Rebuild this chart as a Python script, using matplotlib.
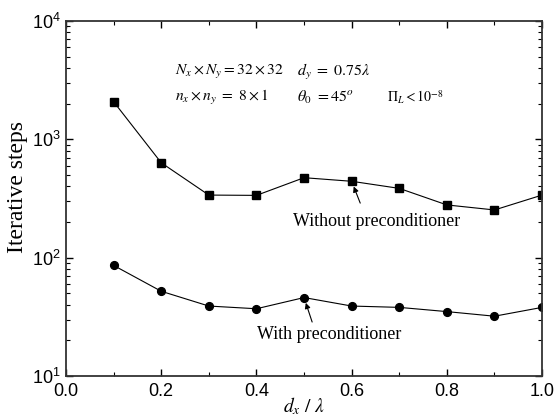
import numpy as np
import matplotlib.pyplot as plt
from matplotlib.ticker import LogLocator, MultipleLocator, NullFormatter

OUTPUT_FIG = "out.png"

# spacing d_x / lambda
dx = [0.1, 0.2, 0.3, 0.4, 0.5, 0.6, 0.7, 0.8, 0.9, 1.0]
# iterative steps
without_pre = [2080, 634, 338, 336, 474, 442, 385, 279, 253, 338]
with_pre = [86, 52, 39, 37, 46, 39, 38, 35, 32, 38]


def main():
    plt.rcParams["mathtext.fontset"] = "stix"
    plt.rcParams["font.family"] = "Liberation Sans"

    fig = plt.figure(figsize=(5.56, 4.16), dpi=100)
    ax = fig.add_axes([0.1187, 0.0962, 0.8563, 0.8533])

    ax.plot(dx, without_pre, "-s", color="black", linewidth=0.8,
            markersize=5.2, markerfacecolor="black")
    ax.plot(dx, with_pre, "-o", color="black", linewidth=0.8,
            markersize=5.6, markerfacecolor="black")

    ax.set_yscale("log")
    ax.set_xlim(0.0, 1.0)
    ax.set_ylim(10, 1e4)
    ax.xaxis.set_major_locator(MultipleLocator(0.2))
    ax.xaxis.set_minor_locator(MultipleLocator(0.1))
    ax.xaxis.set_major_formatter(plt.FuncFormatter(lambda v, p: f"{v:.1f}"))
    ax.yaxis.set_major_locator(LogLocator(base=10))
    ax.yaxis.set_minor_locator(LogLocator(base=10, subs=np.arange(2, 10)))
    ax.yaxis.set_minor_formatter(NullFormatter())

    ax.tick_params(which="both", direction="in", top=True, right=True,
                   labelsize=13, colors="black")
    ax.tick_params(axis="x", pad=5)
    ax.tick_params(axis="y", pad=4)
    ax.tick_params(which="major", length=5, width=1.0)
    ax.tick_params(which="minor", length=3, width=0.8)
    for s in ax.spines.values():
        s.set_linewidth(1.3)
        s.set_color("#333333")

    ax.set_ylabel("Iterative steps", family="Liberation Serif", fontsize=17)
    ax.yaxis.set_label_coords(-0.08, 0.532)
    ax.set_xlabel(r"$d_x\ /\ \lambda$", fontsize=14, labelpad=-3)

    ax.text(0.229, 0.855, r"$N_x\times N_y=32\times 32$", transform=ax.transAxes,
            fontsize=11.2, va="center")
    ax.text(0.485, 0.855, r"$d_y\ =\ 0.75\lambda$", transform=ax.transAxes,
            fontsize=11.5, va="center")
    ax.text(0.229, 0.785, r"$n_x\times n_y\ =\ 8\times 1$", transform=ax.transAxes,
            fontsize=11.2, va="center")
    ax.text(0.485, 0.785, r"$\theta_0\ =45^o$", transform=ax.transAxes,
            fontsize=11.5, va="center")
    ax.text(0.675, 0.785, r"$\Pi_L<10^{-8}$", transform=ax.transAxes,
            fontsize=10, va="center")

    arrow = dict(arrowstyle="-|>", color="black", lw=0.8,
                 mutation_scale=8, shrinkA=0, shrinkB=4)
    ax.text(0.477, 0.434, "Without preconditioner", transform=ax.transAxes,
            family="Liberation Serif", fontsize=13, ha="left", va="center")
    ax.annotate("", xy=(dx[5], without_pre[5]), xytext=(0.618, 0.487),
                textcoords="axes fraction", arrowprops=arrow)
    ax.text(0.401, 0.118, "With preconditioner", transform=ax.transAxes,
            family="Liberation Serif", fontsize=13, ha="left", va="center")
    ax.annotate("", xy=(dx[4], with_pre[4]), xytext=(0.517, 0.152),
                textcoords="axes fraction", arrowprops=arrow)

    plt.savefig(OUTPUT_FIG, dpi=100)
    print(f"Saved: {OUTPUT_FIG}")


if __name__ == "__main__":
    main()
